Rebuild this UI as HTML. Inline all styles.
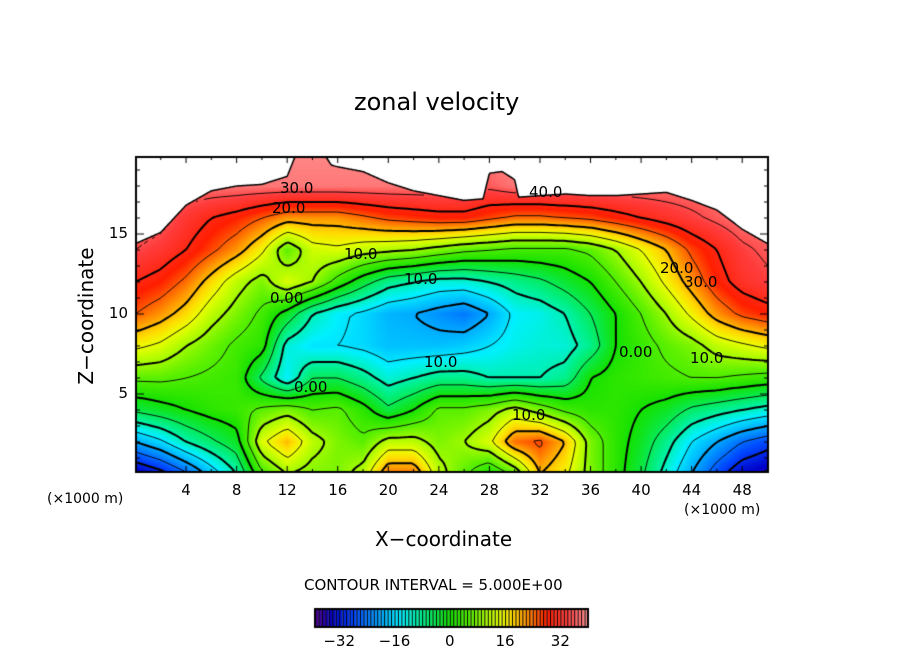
<!DOCTYPE html>
<html><head><meta charset="utf-8"><style>
body{margin:0;background:#fff;}
#wrap{position:relative;width:904px;height:654px;font-family:"DejaVu Sans","Liberation Sans",sans-serif;color:#000;}
.t{position:absolute;white-space:nowrap;}
canvas{position:absolute;left:0;top:0;}
</style></head><body>
<div id="wrap">
<canvas id="cv" width="904" height="654"></canvas>
<div class="t" style="left:354px;top:88px;font-size:24px;">zonal velocity</div>
<div class="t" style="top:316px;font-size:20px;transform:translate(-50%,-50%) rotate(-90deg);transform-origin:center;left:86px;">Z−coordinate</div>
<div class="t" style="left:375px;top:527px;font-size:20px;">X−coordinate</div>
<div class="t" style="left:47px;top:491px;font-size:14px;">(×1000 m)</div>
<div class="t" style="left:684px;top:502px;font-size:14px;">(×1000 m)</div>
<div class="t" style="left:304px;top:576px;font-size:15px;">CONTOUR INTERVAL = 5.000E+00</div>
<div id="labels"></div>
</div>
<script>
const xCols=[0,2,4,6,8,10,12,14,16,18,20,22,24,26,28,30,32,34,36,38,40,42,44,46,48,50];
const zRows=[0,2,4,6,8,10,12,14,16,18,20];
const xTicks=[4,8,12,16,20,24,28,32,36,40,44,48];
const zTicks=[5,10,15];
const cbTicks=[-32,-16,0,16,32];
const surfX=[0,2,4,6,8,10,12,12.6,13,15,15.5,16,18,20,22,24,26,27.5,28,29,30,30.3,32,34,36,38,40,42,44,46,48,50];
const surfZ=[14.4,15.1,16.8,17.7,18,18.1,18.6,19.8,19.9,19.9,19.3,19.2,18.9,18.2,17.7,17.4,17.1,17.2,18.8,18.9,18.4,17.3,17.4,17.5,17.4,17.4,17.5,17.6,17.1,16.5,15.3,14.4];
const z0 =[-36,-32,-26,-18,-10,4,10,8,8,12,24,24,12,6,0,6,20,16,8,2,-4,-12,-20,-28,-34,-36];
const z2 =[-20,-16,-10,-6,-2,14,20,12,8,6,12,12,8,10,14,24,26,20,8,2,-2,-8,-15,-20,-25,-28];
const z4 =[-4,-2,0,2,3,6,8,5,6,2,-4,0,6,6,8,12,8,4,2,2,0,-2,-6,-8,-10,-12];
const z6 =[6,6,5,4,3,-6,-14,-5,-5,-8,-12,-10,-8,-8,-10,-10,-10,-8,0,2,3,4,5,5,4,3];
const z8 =[16,14,10,7,4,2,-12,-15,-15,-16,-18,-18,-18,-17,-15,-13,-12,-12,-8,0,3,6,8,12,14,16];
const z10=[25,22,18,12,8,4,-2,-10,-14,-16,-19,-20,-22,-24,-20,-14,-13,-10,-5,0,5,10,16,22,26,28];
const z12=[30,28,24,18,12,8,14,10,3,-3,-8,-10,-12,-12,-10,-8,-6,-3,0,5,10,16,22,28,32,34];
const z14=[35,33,30,26,22,16,6,13,14,12,11,10,8,6,5,4,4,4,6,10,15,20,26,30,34,36];
const z16=[38,37,33,30,28,25,22,22,22,24,26,27,28,28,26,24,24,25,26,28,30,32,34,36,38,38];
const z18=[38,38,38,38,38,38,38,38,38,38,38,38,38,38,36,38,38,38,38,38,38,38,38,38,38,38];
const z20=[39,39,39,39,39,39,39,39,39,39,39,39,39,39,39,39,39,39,39,39,39,39,39,39,39,39];
const grid=[z0,z2,z4,z6,z8,z10,z12,z14,z16,z18,z20];

const PX0=136,PX1=768,PY0=157,PY1=472;
const xS=x=>135.5+x*(632/50);
const zS=z=>474-z*16;
const xInv=p=>(p-135.5)/(632/50);
const zInv=p=>(474-p)/16;

const stops=[[-39,[80,0,140]],[-34,[0,0,200]],[-28,[0,70,255]],[-20,[0,170,255]],[-14,[0,240,255]],[-8,[0,240,140]],[0,[20,225,0]],[6,[90,240,0]],[10,[160,250,0]],[15,[235,255,0]],[18,[255,220,0]],[22,[255,150,0]],[28,[255,30,0]],[34,[255,60,60]],[40,[255,150,150]]];
function col(v){
  if(v<=stops[0][0])return stops[0][1];
  for(let i=1;i<stops.length;i++){if(v<=stops[i][0]){const a=stops[i-1],b=stops[i];const t=(v-a[0])/(b[0]-a[0]);return a[1].map((c,k)=>Math.round(c+(b[1][k]-c)*t));}}
  return stops[stops.length-1][1];
}
function surf(x){
  for(let i=1;i<surfX.length;i++){if(x<=surfX[i]){const t=(x-surfX[i-1])/(surfX[i]-surfX[i-1]);return surfZ[i-1]+(surfZ[i]-surfZ[i-1])*t;}}
  return surfZ[surfZ.length-1];
}
function val(x,z){
  let fx=Math.max(0,Math.min(xCols.length-1.0001,x/2));
  let fz=Math.max(0,Math.min(zRows.length-1.0001,z/2));
  const i=Math.floor(fx),j=Math.floor(fz),tx=fx-i,tz=fz-j;
  const a=grid[j][i],b=grid[j][i+1],c=grid[j+1][i],d=grid[j+1][i+1];
  return (a*(1-tx)+b*tx)*(1-tz)+(c*(1-tx)+d*tx)*tz;
}
const cv=document.getElementById('cv');const ctx=cv.getContext('2d');
const W=PX1-PX0,H=PY1-PY0;
const img=ctx.createImageData(W,H);
for(let py=0;py<H;py++){const z=zInv(PY0+py+0.5);
  for(let px=0;px<W;px++){const x=xInv(PX0+px+0.5);const k=(py*W+px)*4;
    if(z>surf(x)){img.data[k]=255;img.data[k+1]=255;img.data[k+2]=255;}
    else{const c=col(val(x,z));img.data[k]=c[0];img.data[k+1]=c[1];img.data[k+2]=c[2];}
    img.data[k+3]=255;}}
ctx.putImageData(img,PX0,PY0);
const st=4;const nx=Math.ceil(W/st)+1,ny=Math.ceil(H/st)+1;
const F=[];for(let j=0;j<ny;j++){F[j]=[];for(let i=0;i<nx;i++){const x=xInv(PX0+i*st),z=zInv(PY0+j*st);F[j][i]=z>surf(x)?NaN:val(x,z);}}
ctx.save();ctx.beginPath();ctx.rect(PX0,PY0,W,H);ctx.clip();
for(let L=-35;L<=35;L+=5){
  ctx.beginPath();
  for(let j=0;j<ny-1;j++)for(let i=0;i<nx-1;i++){
    const v=[F[j][i],F[j][i+1],F[j+1][i+1],F[j+1][i]];
    if(v.some(isNaN))continue;
    const p=[[i,j],[i+1,j],[i+1,j+1],[i,j+1]];const pts=[];
    for(let e=0;e<4;e++){const a=v[e],b=v[(e+1)%4];if((a<L)!==(b<L)){const t=(L-a)/(b-a);const A=p[e],B=p[(e+1)%4];pts.push([PX0+(A[0]+(B[0]-A[0])*t)*st,PY0+(A[1]+(B[1]-A[1])*t)*st]);}}
    for(let q=0;q+1<pts.length;q+=2){ctx.moveTo(pts[q][0],pts[q][1]);ctx.lineTo(pts[q+1][0],pts[q+1][1]);}
  }
  ctx.strokeStyle='#000';ctx.lineWidth=(L%10===0)?2:0.9;ctx.stroke();
}
ctx.beginPath();for(let px=PX0;px<=PX1;px++){const y=zS(surf(xInv(px)));px===PX0?ctx.moveTo(px,y):ctx.lineTo(px,y);}ctx.lineWidth=1.5;ctx.stroke();
ctx.restore();
ctx.strokeStyle='#000';ctx.lineWidth=2;ctx.strokeRect(PX0,PY0,W,H);ctx.lineWidth=1;
ctx.beginPath();
xTicks.forEach(t=>{const x=xS(t);ctx.moveTo(x,PY1);ctx.lineTo(x,PY1-6);ctx.moveTo(x,PY0);ctx.lineTo(x,PY0+6);});
for(let t=2;t<50;t+=4){const x=xS(t);ctx.moveTo(x,PY1);ctx.lineTo(x,PY1-3);ctx.moveTo(x,PY0);ctx.lineTo(x,PY0+3);}
for(let t=1;t<20;t++){const y=zS(t);const l=t%5===0?8:4;ctx.moveTo(PX0,y);ctx.lineTo(PX0+l,y);ctx.moveTo(PX1,y);ctx.lineTo(PX1-l,y);}
ctx.stroke();
const CB0=315,CB1=588,CBY=609,CBH=18,cmin=-39,cmax=40;
const cbx=v=>CB0+(v-cmin)*(CB1-CB0)/(cmax-cmin);
for(let v=cmin;v<cmax;v++){const c=col(v+0.5);ctx.fillStyle=`rgb(${c})`;ctx.fillRect(cbx(v),CBY,cbx(v+1)-cbx(v),CBH);ctx.fillStyle='#000';ctx.fillRect(cbx(v),CBY,1,CBH);}
ctx.lineWidth=2;ctx.strokeRect(CB0,CBY,CB1-CB0,CBH);
const lab=document.getElementById('labels');
function addLabel(txt,x,y,name,size){const d=document.createElement('div');d.className='t';d.textContent=txt;d.style.left=x+'px';d.style.top=y+'px';d.style.fontSize=size+'px';d.style.transform='translateX(-50%)';


lab.appendChild(d);}
xTicks.forEach(t=>addLabel(String(t),xS(t),481,'x-tick-label',15));
zTicks.forEach(t=>{const d=document.createElement('div');d.className='t';d.textContent=String(t);d.style.right=(904-128)+'px';d.style.top=(zS(t)-10)+'px';d.style.fontSize='15px';


lab.appendChild(d);});
cbTicks.forEach(t=>addLabel(t<0?'−'+Math.abs(t):String(t),cbx(t),632,'colorbar-tick-label',15));
const cl=[["30.0",296,188],["20.0",288,208],["40.0",545,192],["10.0",360,254],["10.0",420,279],["0.00",286,298],["0.00",310,387],["10.0",440,362],["10.0",528,415],["20.0",676,268],["30.0",700,282],["0.00",635,352],["10.0",706,358]];
cl.forEach(c=>{const d=document.createElement('div');d.className='t';d.textContent=c[0];d.style.left=(c[1]-16)+'px';d.style.top=(c[2]-9)+'px';d.style.fontSize='15px';


lab.appendChild(d);});
</script>
</body></html>
